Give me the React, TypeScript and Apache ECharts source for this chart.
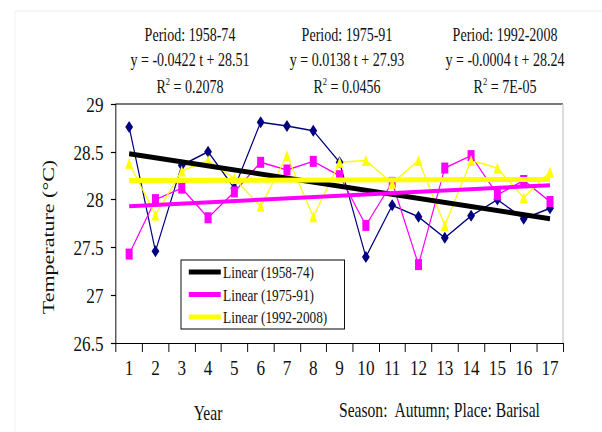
import React, { useEffect, useRef } from "react";
import * as echarts from "echarts";

// horizontal compression of the original figure
const S = 0.78;
const W = 602 / S;
const H = 432;
const X = (a: number) => a / S;

const FONT = '"Liberation Serif", "Times New Roman", serif';

const years = ["1", "2", "3", "4", "5", "6", "7", "8", "9", "10", "11", "12", "13", "14", "15", "16", "17"];

const temp1958 = [28.76, 27.46, 28.36, 28.5, 28.12, 28.81, 28.77, 28.72, 28.39, 27.4, 27.94, 27.82, 27.6, 27.83, 28.0, 27.8, 27.91];
const temp1975 = [27.43, 28.0, 28.12, 27.81, 28.08, 28.39, 28.31, 28.4, 28.25, 27.73, 28.18, 27.32, 28.33, 28.46, 28.05, 28.2, 27.98];
const temp1992 = [28.38, 27.84, 28.3, 28.41, 28.22, 27.93, 28.46, 27.82, 28.39, 28.41, 28.17, 28.41, 27.73, 28.41, 28.33, 28.02, 28.29];

const trend1958: [string, number][] = [["1", 28.48], ["17", 27.8]];
const trend1975: [string, number][] = [["1", 27.93], ["17", 28.15]];
const trend1992: [string, number][] = [["1", 28.2], ["17", 28.21]];

const legendNames = ["Linear (1958-74)", "Linear (1975-91)", "Linear (1992-2008)"];

const periods = ["Period: 1958-74", "Period: 1975-91", "Period: 1992-2008"];
const equations = ["y = -0.0422 t + 28.51", "y = 0.0138 t + 27.93", "y = -0.0004 t + 28.24"];
const r2Values = ["0.2078", "0.0456", "7E-05"];
const annotationX = [190, 347, 505];

const TXT = "#111111";

function buildOption() {
  const annText: any[] = [];
  periods.forEach((p, i) => {
    const cx = X(annotationX[i]);
    annText.push({
      type: "text",
      x: cx,
      y: 35,
      style: { text: p, font: `18px ${FONT}`, fill: TXT, align: "center", verticalAlign: "middle" },
    });
    annText.push({
      type: "text",
      x: cx,
      y: 60,
      style: { text: equations[i], font: `18px ${FONT}`, fill: TXT, align: "center", verticalAlign: "middle" },
    });
    annText.push({
      type: "text",
      x: cx,
      y: 86,
      style: {
        text: `{a|R}{s|2}{a| = ${r2Values[i]}}`,
        align: "center",
        verticalAlign: "middle",
        fill: TXT,
        rich: {
          a: { fontSize: 18, fontFamily: FONT, lineHeight: 20, fill: TXT, verticalAlign: "bottom" },
          s: { fontSize: 11, fontFamily: FONT, lineHeight: 13, fill: TXT, verticalAlign: "top" },
        },
      },
    });
  });

  return {
    animation: false,
    backgroundColor: "#ffffff",
    grid: { left: X(116), right: W - X(563), top: 104, bottom: 89, containLabel: false },
    xAxis: {
      type: "category",
      data: years,
      boundaryGap: true,
      axisLine: { show: true, lineStyle: { color: "#000", width: 1.2 } },
      axisTick: { show: true, length: 9, lineStyle: { color: "#000", width: 1.2 } },
      axisLabel: { interval: 0, fontFamily: FONT, fontSize: 22, color: TXT, margin: 13 },
      splitLine: { show: false },
    },
    yAxis: {
      type: "value",
      min: 26.5,
      max: 29,
      interval: 0.5,
      axisLine: { show: true, lineStyle: { color: "#000", width: 1.2 } },
      axisTick: { show: true, length: 6.5, lineStyle: { color: "#000", width: 1.2 } },
      axisLabel: { fontFamily: FONT, fontSize: 22, color: TXT, margin: 16 },
      splitLine: { show: false },
    },
    legend: {
      data: legendNames,
      orient: "vertical",
      left: X(181),
      top: 260,
      icon: "rect",
      itemWidth: 41,
      itemHeight: 5,
      itemGap: 4.5,
      padding: [3, 22, 3, 10],
      borderColor: "#000",
      borderWidth: 1.2,
      backgroundColor: "#fff",
      textStyle: { fontFamily: FONT, fontSize: 17, color: TXT, lineHeight: 18, padding: [0, 0, 0, -2] },
    },
    series: [
      {
        name: "1958-74",
        type: "line",
        data: temp1958,
        color: "#000080",
        symbol: "diamond",
        symbolSize: [10, 12],
        lineStyle: { color: "#000080", width: 1.5 },
        itemStyle: { color: "#000080" },
        z: 2,
      },
      {
        name: "1975-91",
        type: "line",
        data: temp1975,
        color: "#ff00ff",
        symbol: "rect",
        symbolSize: [9, 11],
        lineStyle: { color: "#ff00ff", width: 1.5 },
        itemStyle: { color: "#ff00ff" },
        z: 2,
      },
      {
        name: "1992-2008",
        type: "line",
        data: temp1992,
        color: "#ffff00",
        symbol: "triangle",
        symbolSize: [10, 11],
        lineStyle: { color: "#ffff00", width: 1.5 },
        itemStyle: { color: "#ffff00" },
        z: 2,
      },
      {
        name: legendNames[0],
        type: "line",
        data: trend1958,
        color: "#000000",
        symbol: "none",
        lineStyle: { color: "#000000", width: 5 },
        z: 3,
      },
      {
        name: legendNames[1],
        type: "line",
        data: trend1975,
        color: "#ff00ff",
        symbol: "none",
        lineStyle: { color: "#ff00ff", width: 4 },
        z: 3,
      },
      {
        name: legendNames[2],
        type: "line",
        data: trend1992,
        color: "#ffff00",
        symbol: "none",
        lineStyle: { color: "#ffff00", width: 5 },
        z: 3,
      },
    ],
    graphic: [
      // faint outer frame
      { type: "line", shape: { x1: X(15), y1: 11, x2: W, y2: 11 }, style: { stroke: "#ececec", lineWidth: 1 }, silent: true },
      { type: "line", shape: { x1: X(15), y1: 11, x2: X(15), y2: H }, style: { stroke: "#f2f2f2", lineWidth: 1 }, silent: true },
      // plot frame top & right
      { type: "line", shape: { x1: X(116), y1: 104, x2: X(563), y2: 104 }, style: { stroke: "#7a7a7a", lineWidth: 2 }, silent: true },
      { type: "line", shape: { x1: X(563), y1: 104, x2: X(563), y2: 343 }, style: { stroke: "#d4d4d4", lineWidth: 2 }, silent: true },
      ...annText,
      {
        type: "text",
        x: X(48),
        y: 237,
        rotation: Math.PI / 2,
        style: { text: "Temperature (°C)", font: `22px ${FONT}`, fill: TXT, align: "center", verticalAlign: "middle" },
      },
      {
        type: "text",
        x: X(208),
        y: 413,
        style: { text: "Year", font: `20px ${FONT}`, fill: TXT, align: "center", verticalAlign: "middle" },
      },
      {
        type: "text",
        x: X(339),
        y: 410,
        style: { text: "Season:  Autumn; Place: Barisal", font: `20px ${FONT}`, fill: TXT, align: "left", verticalAlign: "middle" },
      },
    ],
  };
}

export default function App() {
  const ref = useRef<HTMLDivElement>(null);
  useEffect(() => {
    if (!ref.current) return;
    const chart = echarts.init(ref.current, null, { renderer: "svg" });
    chart.setOption(buildOption() as any);
    return () => chart.dispose();
  }, []);
  return (
    <div
      style={{
        position: "fixed",
        left: 0,
        top: 0,
        width: 602,
        height: 432,
        overflow: "hidden",
        background: "#fff",
      }}
    >
      <div
        ref={ref}
        style={{ width: W, height: H, transform: `scaleX(${S})`, transformOrigin: "0 0" }}
      />
    </div>
  );
}
